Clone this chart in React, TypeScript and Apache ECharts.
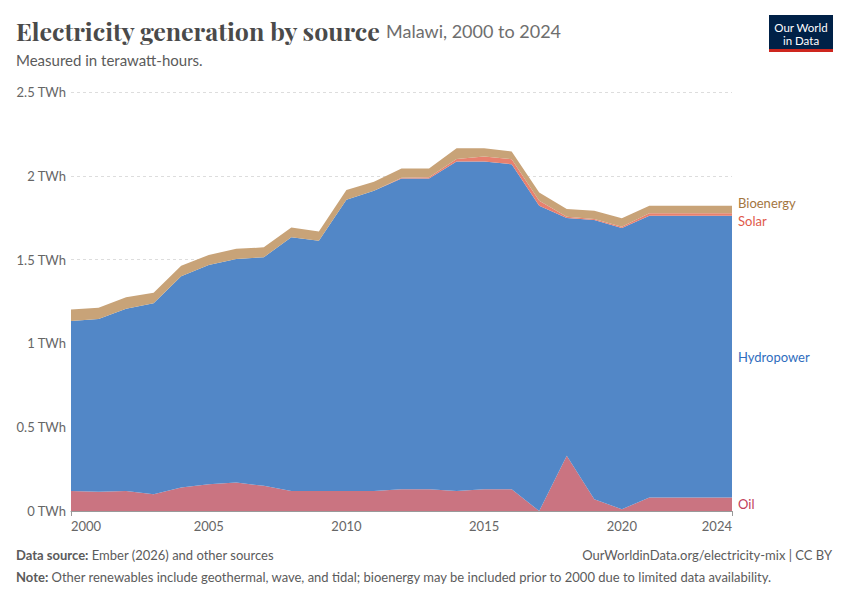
import React, { useEffect, useRef } from "react";
import * as echarts from "echarts";

const years = [2000,2001,2002,2003,2004,2005,2006,2007,2008,2009,2010,2011,2012,2013,2014,2015,2016,2017,2018,2019,2020,2021,2022,2023,2024];
const oil = [0.12,0.115,0.12,0.1,0.14,0.16,0.17,0.15,0.12,0.12,0.12,0.12,0.13,0.13,0.12,0.13,0.13,0.0,0.33,0.07,0.01,0.08,0.08,0.08,0.08];
const hydro = [1.013,1.03,1.086,1.14,1.261,1.308,1.334,1.364,1.513,1.493,1.737,1.791,1.854,1.854,1.965,1.955,1.939,1.821,1.418,1.666,1.679,1.682,1.682,1.682,1.682];
const solar = [0,0,0,0,0,0,0,0,0,0,0,0,0.005,0.008,0.015,0.03,0.03,0.03,0.008,0.006,0.007,0.014,0.014,0.014,0.014];
const bio = [0.069,0.067,0.07,0.062,0.063,0.06,0.06,0.059,0.059,0.054,0.058,0.053,0.055,0.052,0.065,0.05,0.046,0.05,0.046,0.05,0.05,0.045,0.045,0.045,0.045];
const seriesNames = ["Oil", "Hydropower", "Solar", "Bioenergy"];
const xLabels = [2000, 2005, 2010, 2015, 2020, 2024];
const xTicks = [2000, 2024];
const yTicks = [0, 0.5, 1, 1.5, 2, 2.5];

const fill = ["#CA7481", "#5287C7", "#E8806E", "#C8A378"];
const labelColor = ["#C2405A", "#2F6DBE", "#E0594A", "#A3763F"];

export default function App() {
  const ref = useRef<HTMLDivElement>(null);
  useEffect(() => {
    document.body.style.margin = "0";
    const chart = echarts.init(ref.current!, null, { renderer: "svg" });
    const values = [oil, hydro, solar, bio];
    const series = seriesNames.map((name, i) => ({
      name,
      type: "line",
      stack: "total",
      showSymbol: false,
      symbol: "none",
      lineStyle: { width: 0, opacity: 0 },
      areaStyle: { color: fill[i], opacity: 1 },
      data: values[i],
    }));
    const option: any = {
      animation: false,
      backgroundColor: "#ffffff",
      textStyle: { fontFamily: "Lato" },
      grid: { left: 71, right: 118, top: 92, bottom: 89 },
      xAxis: {
        type: "category",
        boundaryGap: false,
        data: years.map(String),
        axisLine: { lineStyle: { color: "#999" } },
        axisTick: {
          interval: (idx: number) => xTicks.includes(years[idx]),
          length: 5,
          lineStyle: { color: "#999" },
        },
        axisLabel: {
          interval: (idx: number) => xLabels.includes(years[idx]),
          color: "#666",
          fontSize: 13,
          margin: 8,
          alignMinLabel: "left",
          alignMaxLabel: "right",
        },
        splitLine: { show: false },
      },
      yAxis: {
        type: "value",
        min: yTicks[0],
        max: yTicks[yTicks.length - 1],
        interval: 0.5,
        axisLine: { show: false },
        axisTick: { show: false },
        axisLabel: {
          formatter: (v: number) => v + " TWh",
          color: "#666",
          fontSize: 13,
          margin: 5,
        },
        splitLine: { lineStyle: { color: "#ddd", type: [3, 3] } },
      },
      series,
    };
    chart.setOption(option);

    const last = years.length - 1;
    let cum = 0;
    const labs = seriesNames.map((name, i) => {
      const lo = cum;
      cum += values[i][last];
      const mid = (lo + cum) / 2;
      const p = chart.convertToPixel({ gridIndex: 0 }, [last, mid]) as number[];
      return { name, i, x: p[0] + 6, y: p[1] };
    });
    const sorted = [...labs].sort((a, b) => a.y - b.y);
    const gap = 18;
    for (let iter = 0; iter < 20; iter++) {
      for (let k = 1; k < sorted.length; k++) {
        const d = sorted[k].y - sorted[k - 1].y;
        if (d < gap) {
          const push = (gap - d) / 2;
          sorted[k].y += push;
          sorted[k - 1].y -= push;
        }
      }
    }

    const bold = { fontWeight: "bold", fontFamily: "Lato", fontSize: 13, fill: "#5b5b5b" };
    const graphic: any[] = [
      {
        type: "text",
        left: 16,
        top: 18,
        style: {
          text: "Electricity generation by source",
          fontFamily: "'Playfair Display', 'Liberation Serif', serif",
          fontWeight: "bold",
          fontSize: 25,
          fill: "#4a4a4a",
        },
      },
      {
        type: "text",
        left: 386,
        top: 22,
        style: { text: "Malawi, 2000 to 2024", fontFamily: "Lato", fontSize: 18, fill: "#6e6e6e" },
      },
      {
        type: "text",
        left: 16,
        top: 52,
        style: { text: "Measured in terawatt-hours.", fontFamily: "Lato", fontSize: 15, fill: "#5b5b5b" },
      },
      { type: "rect", shape: { x: 769, y: 15, width: 64, height: 37 }, style: { fill: "#002147" } },
      { type: "rect", shape: { x: 769, y: 49, width: 64, height: 3 }, style: { fill: "#CE261E" } },
      {
        type: "text",
        x: 801,
        y: 27,
        style: { text: "Our World", fontFamily: "Lato", fontSize: 11.5, fill: "#fff", align: "center", verticalAlign: "middle" },
      },
      {
        type: "text",
        x: 801,
        y: 40,
        style: { text: "in Data", fontFamily: "Lato", fontSize: 11.5, fill: "#fff", align: "center", verticalAlign: "middle" },
      },
      {
        type: "text",
        x: 16,
        y: 555,
        style: {
          text: "{b|Data source:} Ember (2026) and other sources",
          fontFamily: "Lato",
          fontSize: 13,
          fill: "#5b5b5b",
          verticalAlign: "middle",
          rich: { b: bold },
        },
      },
      {
        type: "text",
        x: 832,
        y: 555,
        style: {
          text: "OurWorldinData.org/electricity-mix | CC BY",
          fontFamily: "Lato",
          fontSize: 13,
          fill: "#5b5b5b",
          align: "right",
          verticalAlign: "middle",
        },
      },
      {
        type: "text",
        x: 16,
        y: 577,
        style: {
          text: "{b|Note:} Other renewables include geothermal, wave, and tidal; bioenergy may be included prior to 2000 due to limited data availability.",
          fontFamily: "Lato",
          fontSize: 13,
          fill: "#5b5b5b",
          verticalAlign: "middle",
          rich: { b: bold },
        },
      },
      ...labs.map((l) => ({
        type: "text",
        x: l.x,
        y: l.y,
        style: { text: l.name, fontFamily: "Lato", fontSize: 13, fill: labelColor[l.i], verticalAlign: "middle" },
      })),
    ];
    chart.setOption({ graphic });
    return () => chart.dispose();
  }, []);
  return <div ref={ref} style={{ width: 850, height: 600 }} />;
}
